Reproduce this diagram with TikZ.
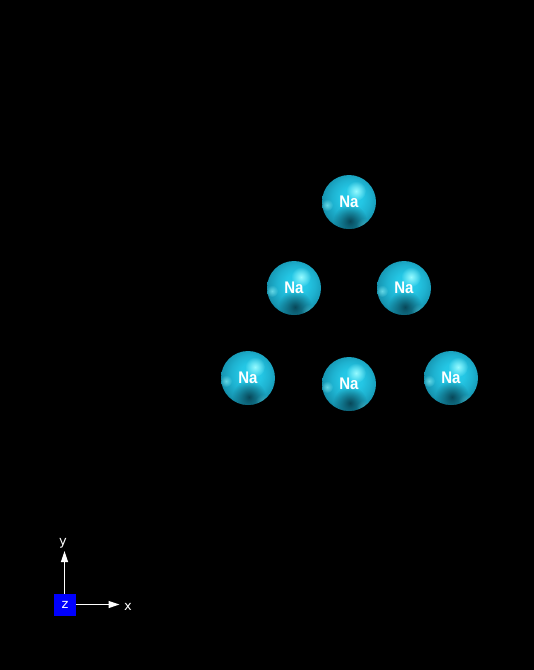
\documentclass[tikz,border=0pt]{standalone}
\usepackage{fontspec}
\setmainfont{Liberation Sans}
\newfontfamily\axfont{DejaVu Sans}
\usetikzlibrary{arrows.meta,fadings,calc}
\pgfdeclareradialshading{nasphere}{\pgfpoint{3pt}{5pt}}{%
 color(0pt)=(rgb,255:red,40;green,205;blue,235);
 color(10pt)=(rgb,255:red,36;green,198;blue,228);
 color(18pt)=(rgb,255:red,30;green,178;blue,208);
 color(26pt)=(rgb,255:red,22;green,150;blue,178);
 color(31pt)=(rgb,255:red,14;green,115;blue,140);
 color(50pt)=(rgb,255:red,14;green,115;blue,140)}
\tikzfading[name=naglow,inner color=transparent!0,outer color=transparent!100]
\definecolor{hilite}{RGB}{150,250,255}
\definecolor{darkpatch}{RGB}{6,62,78}
\newcommand\Na{\raisebox{-2.5pt}{\scalebox{1}[1.12]{Na}}}
\tikzset{
 atom/.style={circle,inner sep=0pt,minimum size=54pt,text=white,
  font=\fontsize{15}{15}\selectfont\bfseries,
  path picture={
   \shade[shading=nasphere] (path picture bounding box.south west) rectangle (path picture bounding box.north east);
   \fill[darkpatch,opacity=.9,path fading=naglow] ($(path picture bounding box.center)+(1pt,-19pt)$) circle (17pt);
   \fill[hilite,path fading=naglow] ($(path picture bounding box.center)+(7pt,11pt)$) circle (10pt);
   \fill[hilite,opacity=.6,path fading=naglow] ($(path picture bounding box.center)+(-22pt,-3pt)$) circle (6pt);
   \fill[hilite,opacity=.3,path fading=naglow] ($(path picture bounding box.center)+(15pt,-24pt)$) circle (8pt);
  }},
 axis/.style={white,line width=1.2pt,-{Triangle[length=11pt,width=7pt]}},
 axlabel/.style={text=white,inner sep=0pt,font=\axfont\fontsize{13}{13}\selectfont}
}
\begin{document}
\begin{tikzpicture}[x=1pt,y=-1pt]
\useasboundingbox (0,0) rectangle (534,670);
\fill[black] (0,0) rectangle (534,670);
\node[atom] (a1) at (349,202) {\Na};
\node[atom] (a2) at (294,288) {\Na};
\node[atom] (a3) at (404,288) {\Na};
\node[atom] (a4) at (248,378) {\Na};
\node[atom] (a5) at (349,384) {\Na};
\node[atom] (a6) at (451,378) {\Na};
\node[fill=blue,minimum size=22pt,inner sep=0pt,axlabel] (z) at (65,605) {z};
\coordinate (xs) at (76,604.5);
\coordinate (xe) at (119.5,604.5);
\coordinate (ys) at (64.5,594);
\coordinate (ye) at (64.5,551);
\draw[axis] (xs) -- (xe);
\draw[axis] (ys) -- (ye);
\node[axlabel] (xl) at (128,607) {x};
\node[axlabel] (yl) at (63,543) {y};
\end{tikzpicture}
\end{document}
